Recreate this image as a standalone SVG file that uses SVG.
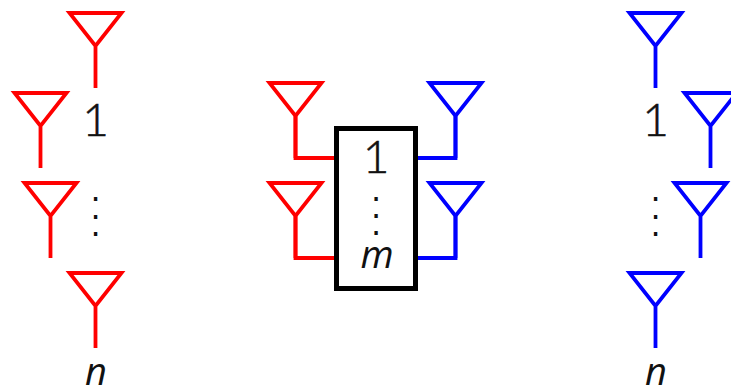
<svg xmlns="http://www.w3.org/2000/svg" width="731" height="387" viewBox="0 0 731 387">
<style>
.a{fill:none;stroke-width:3.8;stroke-linejoin:miter}
.r{stroke:#f00}
.b{stroke:#00f}
.t{font-family:Lato,"DejaVu Sans",sans-serif;font-weight:300;font-size:46px;fill:#111;stroke:#111;stroke-width:.6;text-anchor:middle}
.i{font-family:"Open Sans","DejaVu Sans",sans-serif;font-style:italic;font-size:38px;fill:#111;text-anchor:middle}
.d{font-family:"DejaVu Sans",sans-serif;font-size:32px;fill:#111;text-anchor:middle}
</style>
<defs>
<path id="ant" d="M-26 0H26L0 33ZM0 33V75"/>
</defs>
<g id="tx-left">
<use href="#ant" class="a r" x="95.5" y="13"/>
<use href="#ant" class="a r" x="40.5" y="93"/>
<use href="#ant" class="a r" x="50.5" y="183"/>
<use href="#ant" class="a r" x="95.5" y="273"/>
<text class="t" x="95.5" y="136">1</text>
<text class="d"><tspan x="95.5" y="201">.</tspan><tspan x="95.5" y="218.5">.</tspan><tspan x="95.5" y="235.5">.</tspan></text>
<text class="i" x="96" y="385">n</text>
</g>
<g id="rx-right">
<use href="#ant" class="a b" x="655.5" y="13"/>
<use href="#ant" class="a b" x="710.5" y="93"/>
<use href="#ant" class="a b" x="700.5" y="183"/>
<use href="#ant" class="a b" x="655.5" y="273"/>
<text class="t" x="655.5" y="136">1</text>
<text class="d"><tspan x="655.5" y="201">.</tspan><tspan x="655.5" y="218.5">.</tspan><tspan x="655.5" y="235.5">.</tspan></text>
<text class="i" x="656" y="385">n</text>
</g>
<g id="connectors">
<path class="a r" d="M295.5 116V158H335M295.5 216V258H335"/>
<path class="a b" d="M416 158H455.5V116M416 258H455.5V216"/>
</g>
<g id="relay-left">
<use href="#ant" class="a r" x="295.5" y="83"/>
<use href="#ant" class="a r" x="295.5" y="183"/>
</g>
<g id="relay-right">
<use href="#ant" class="a b" x="455.5" y="83"/>
<use href="#ant" class="a b" x="455.5" y="183"/>
</g>
<g id="relay">
<rect x="336.5" y="128.5" width="79" height="160" fill="none" stroke="#000" stroke-width="5"/>
<text class="t" x="376" y="173">1</text>
<text class="d"><tspan x="376" y="200.5">.</tspan><tspan x="376" y="218">.</tspan><tspan x="376" y="235">.</tspan></text>
<text class="i" x="377" y="268" font-size="41">m</text>
</g>
</svg>
